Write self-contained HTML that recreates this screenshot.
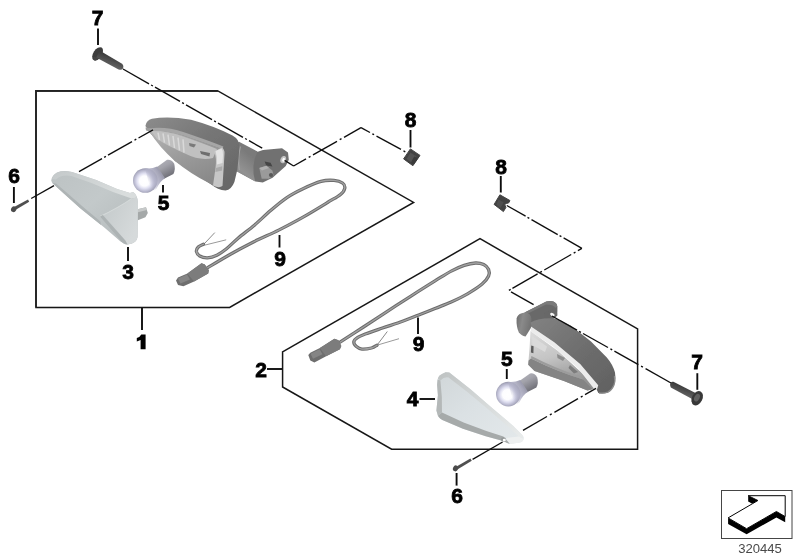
<!DOCTYPE html>
<html>
<head>
<meta charset="utf-8">
<title>Turn indicator parts diagram 320445</title>
<style>
  html, body { margin: 0; padding: 0; background: #ffffff; }
  body { width: 800px; height: 560px; overflow: hidden; font-family: "Liberation Sans", sans-serif; }
  svg { display: block; }
  .lbl { font-family: "Liberation Sans", sans-serif; font-weight: bold; font-size: 21px; fill: #000; stroke: #000; stroke-width: 0.8px; text-anchor: middle; }
  .ld { stroke: #111; stroke-width: 1.9; fill: none; }
  .box { stroke: #161616; stroke-width: 1.5; fill: none; stroke-linejoin: miter; }
  .dd { stroke: #111; stroke-width: 1.3; fill: none; stroke-dasharray: 22 3 2 3; }
</style>
</head>
<body>
<svg width="800" height="560" viewBox="0 0 800 560">
<defs>
  <filter id="soft" x="-5%" y="-5%" width="110%" height="110%"><feGaussianBlur stdDeviation="0.45"/></filter>
  <filter id="soft2" x="-10%" y="-10%" width="120%" height="120%"><feGaussianBlur stdDeviation="0.6"/></filter>
</defs>
<rect x="0" y="0" width="800" height="560" fill="#ffffff"/>

<!-- ===== GROUP BOXES ===== -->
<g id="boxes" filter="url(#soft)">
  <polygon class="box" points="36,90.9 217.9,90.9 413.6,202.4 229.6,307.4 36,307.4"/>
  <path d="M36,307.4 L36,90.9 L217.9,90.9" stroke="#222" stroke-width="1.75" fill="none" stroke-linejoin="miter"/>
  <polygon class="box" points="282.6,351.8 480,238.7 637.6,328.9 637.6,449.2 391.6,449.2 282.6,387"/>
</g>

<!-- ===== PARTS ===== -->
<defs>
  <linearGradient id="gShellL" x1="0" y1="0" x2="1" y2="1">
    <stop offset="0" stop-color="#8c8c8c"/><stop offset="0.45" stop-color="#767676"/><stop offset="1" stop-color="#646464"/>
  </linearGradient>
  <linearGradient id="gLensL" x1="0" y1="0" x2="0.6" y2="1">
    <stop offset="0" stop-color="#b4b4b4"/><stop offset="0.5" stop-color="#9c9c9c"/><stop offset="1" stop-color="#8a8a8a"/>
  </linearGradient>
  <linearGradient id="gStemL" x1="0" y1="0" x2="-0.5" y2="1">
    <stop offset="0" stop-color="#7a7a7a"/><stop offset="0.45" stop-color="#929292"/><stop offset="1" stop-color="#6c6c6c"/>
  </linearGradient>
  <radialGradient id="gBulb" cx="0.47" cy="0.52" r="0.54">
    <stop offset="0" stop-color="#ffffff"/><stop offset="0.38" stop-color="#fdfdff"/><stop offset="0.58" stop-color="#dedef0"/><stop offset="0.8" stop-color="#b6b6cc"/><stop offset="1" stop-color="#8e8ea2"/>
  </radialGradient>
  <linearGradient id="gNeck2" gradientUnits="userSpaceOnUse" x1="510" y1="394.5" x2="524" y2="386">
    <stop offset="0" stop-color="#b6b6cc" stop-opacity="0"/><stop offset="0.45" stop-color="#b2b2c8" stop-opacity="0.85"/><stop offset="1" stop-color="#9c9cae" stop-opacity="1"/>
  </linearGradient>
  <linearGradient id="gNeck" x1="0" y1="0" x2="0.55" y2="1">
    <stop offset="0" stop-color="#bcbcce"/><stop offset="0.5" stop-color="#a4a4b8"/><stop offset="1" stop-color="#7e7e90"/>
  </linearGradient>
  <linearGradient id="gBase" x1="0" y1="0" x2="0.55" y2="1">
    <stop offset="0" stop-color="#b8b8c0"/><stop offset="0.45" stop-color="#a2a2aa"/><stop offset="1" stop-color="#6c6c74"/>
  </linearGradient>
</defs>

<!-- left housing (indicator body) -->
<g id="housingL" filter="url(#soft2)">
  <!-- mount plate -->
  <path d="M236,141 L257,152 L263,150 L282,148.2 L288,152.5 L288.8,159.7 L285.8,165.9 L272.6,177.8 L262.8,182.6 L255.5,181.4 L233,169 Z" fill="#717171"/>
  <!-- stem cylinder -->
  <path d="M239,141.8 L257.6,151.6 Q250.4,166 255.2,181.4 L235,170.6 Q232.5,156 239,141.8 Z" fill="url(#gStemL)"/>
  <path d="M240.4,146.5 Q237.4,158 239.4,170" stroke="#a2a2a2" stroke-width="1.2" fill="none"/>
  <!-- bolt -->
  <path d="M264.6,161.6 L270.6,162.8 L272.4,166.6 L266.2,165.6 Z" fill="#454545"/>
  <path d="M259.3,168 L266.4,165.7 L272.4,170.5 L273.6,175.2 L268.8,178.8 L261.7,178.8 Z" fill="#9a9a9a"/>
  <path d="M259.3,168 L266.4,165.7 L269,168 L262,170.6 Z" fill="#b0b0b0"/>
  <circle cx="271" cy="175" r="2.1" fill="#585858"/>
  <!-- hole -->
  <ellipse cx="283.2" cy="159.6" rx="2.7" ry="3.7" fill="#c4c4c4" transform="rotate(20 283.2 159.6)"/>
  <ellipse cx="283.6" cy="159.8" rx="1.3" ry="2.0" fill="#ffffff" transform="rotate(20 283.6 159.8)"/>
  <!-- shell -->
  <path d="M145.4,126 Q146,120.5 152,118.8 Q168,115.6 191,119.8 Q214,126 232.5,135.5 Q239.6,139.5 239.4,146.5 L238.6,158 Q238,170 234.4,182 Q231.5,189.6 225.5,190.5 Q218,190 210.5,184 L175,161 L150,133 Z" fill="url(#gShellL)"/>
  <!-- lip along lens top -->
  <path d="M148.5,128.6 Q165,126 184,132.2 Q207,140 223.4,146.4 L222.4,149.4 Q206,143.6 183.2,135.6 Q165,129.8 149.5,131.6 Z" fill="#a6a6a6"/>
  <!-- lens body -->
  <path d="M149.5,131.5 Q165,129.5 183.2,135.5 Q207,143.5 222.5,149 L220,186 Q214,187 208,182.5 Q191,174 175.2,161.2 Q159,147 149.5,131.5 Z" fill="url(#gLensL)"/>
  <!-- lens upper ribbed band -->
  <path d="M151,131 Q166,130.5 183.2,136.5 Q205,144 217,149 L213,158 Q200,161 186,154 Q168,146 157,139 Z" fill="#c0c0c0"/>
  <path d="M158,132.6 L159.5,140 M163,133.4 L164.5,142.6 M168,134.6 L169.5,145.4 M173,136 L174.5,148 M178,137.6 L179.5,150.4 M183,139.4 L184,152.6" stroke="#d9d9d9" stroke-width="1.5" fill="none"/>
  <!-- inner dark bits -->
  <path d="M189,143 L196,144.5 L194,147.5 L189.5,146 Z" fill="#7a7a7a"/>
  <path d="M200,151 L210,153 L209.5,156.5 L201,154 Z" fill="#6e6e6e"/>
  <!-- lens right light face -->
  <path d="M214,151.5 L222,147.5 Q225,150 224.5,154 L222.5,186 Q219,188.5 213,185.5 L215.5,168 Q217,158 214,151.5 Z" fill="#c6c6c6"/>
  <path d="M215.5,151 L221.5,148.5 Q223.5,151 223,155 L222.5,163 L217,164.5 Q217.5,157 215.5,151 Z" fill="#e4e4e4"/>
  <path d="M215.8,168 L222.3,166.2 L222.1,170.5 L215.4,172 Z" fill="#aaaaaa"/>
  <!-- small tip notch -->
  <path d="M145.5,127.5 L150.5,128.5 L149.5,131.5 L146,130.5 Z" fill="#9c9c9c"/>
</g>

<defs>
  <linearGradient id="gL3main" x1="0" y1="0" x2="1" y2="1">
    <stop offset="0" stop-color="#bcc2c3"/><stop offset="0.45" stop-color="#c3c9ca"/><stop offset="1" stop-color="#b2b8b9"/>
  </linearGradient>
  <linearGradient id="gL3top" x1="0" y1="0" x2="1" y2="0.5">
    <stop offset="0" stop-color="#c4c9ca"/><stop offset="1" stop-color="#d9dddd"/>
  </linearGradient>
  <linearGradient id="gL3right" x1="0" y1="0" x2="1" y2="0.6">
    <stop offset="0" stop-color="#c2c8c9"/><stop offset="1" stop-color="#d6dadb"/>
  </linearGradient>
  <linearGradient id="gScrew" x1="0" y1="0" x2="-0.5" y2="1">
    <stop offset="0" stop-color="#3c3c3c"/><stop offset="0.5" stop-color="#686868"/><stop offset="1" stop-color="#3a3a3a"/>
  </linearGradient>
</defs>

<!-- lens 3 (left cover) -->
<g id="lens3" filter="url(#soft2)">
  <!-- tab -->
  <path d="M136.4,209.6 L146,207.2 L147.8,213 L145.4,217.2 L137.2,220.4 Z" fill="#a4a8a8"/>
  <path d="M136.4,209.6 L146,207.2 L146.8,210 L137,212.6 Z" fill="#c6c9c9"/>
  <!-- whole silhouette -->
  <path d="M51.2,180.5 Q52,175 57,172.5 Q63,170 72,172 L96.2,180.1 L117.1,188.9 L130,193 L133.2,192.1 Q137.5,195 138,203 L137.5,237 Q137,241.5 132,243.5 L127.6,244.6 Q124,244.5 120,241 L104.3,227.5 L80.2,208.2 L64.1,193.7 L54.5,185 Q51.5,183 51.2,180.5 Z" fill="url(#gL3main)"/>
  <!-- top bevel -->
  <path d="M52,179 Q53.6,173.8 59,172 Q64,170.5 72,172 L96.2,180.1 L117.1,188.9 L130,193 L133.2,192.1 Q136,194 137,197.6 L131.6,198.6 L113,192 L91.5,183 L71.5,176 Q61,174.2 56,179.6 Z" fill="url(#gL3top)"/>
  <!-- right face -->
  <path d="M131.6,198.6 L137,197.6 Q138,200 138,204 L137.5,237 Q137,241.5 132,243.5 L127.6,244.6 Q124.5,244.5 121,241.5 L100,216.5 Q118,208 131.6,198.6 Z" fill="url(#gL3right)"/>
  <!-- ridge highlight -->
  <path d="M131.6,198.6 Q118,208 100,216.5" stroke="#d4d9d9" stroke-width="1.1" fill="none"/>
  <!-- lower shaded band -->
  <path d="M100,216.5 L121,241.5 Q124.5,244.5 127.6,244.6 L125.4,240.4 L102.8,215 Z" fill="#adb3b4"/>
  <path d="M52.4,183 L54.5,185 L64.1,193.7 L80.2,208.2 L101,225 L100.4,221.6 L82,206 L66,192 L56,183.4 Z" fill="#aeb4b5"/>
</g>

<!-- screw 7 top-left -->
<g id="screw7L" filter="url(#soft2)">
  <ellipse cx="97.6" cy="53.8" rx="4.3" ry="7.4" fill="#3c3c3c" transform="rotate(33 97.6 53.8)"/>
  <path d="M99.6,50.6 L121.6,63.4 Q124.2,65.4 123,68.2 Q121.6,70.6 118.6,69.4 L96.2,57.4 Z" fill="url(#gScrew)"/>
  <path d="M93.5,56.5 Q92.6,60 95,60.8 Q97.5,60.6 99.5,58.6 Z" fill="#444"/>
</g>

<!-- screw 6 left -->
<g id="screw6L" filter="url(#soft)">
  <path d="M15,206.6 L28,199.4 L29.2,201.8 L16.2,209.4 Z" fill="#505050"/>
  <ellipse cx="13.7" cy="209.2" rx="2.6" ry="3" fill="#4c4c4c" transform="rotate(28 13.7 209.2)"/>
</g>

<!-- part 8 left -->
<g id="nut8L" filter="url(#soft2)">
  <path d="M403.6,158.9 L410.4,148.9 L420,155.4 L412.9,165.7 Z" fill="#424242" stroke="#424242" stroke-width="1" stroke-linejoin="round"/>
  <path d="M410.5,152.5 L416.5,156.6 L412,163 L406.5,159 Z" fill="#525252"/>
  <path d="M414.2,156.4 L417.8,158.6 L413.6,164.4 L411,162.6 Z" fill="#3a3a3a"/>
</g>

<!-- part 8 right -->
<g id="nut8R" filter="url(#soft2)">
  <path d="M494.1,204.4 L499.9,194.8 L509.9,200.5 L508.8,202.8 L506.3,203.6 L504.7,204.4 L505.9,207.5 L503.4,211.6 Z" fill="#424242" stroke="#424242" stroke-width="1" stroke-linejoin="round"/>
  <path d="M498.6,199.6 L503.6,202.6 L500.4,208 L496.4,204.6 Z" fill="#505050"/>
</g>


<!-- wire 9 left -->
<g id="wire9L" filter="url(#soft)">
  <path d="M203.5,244.6 L214.8,232.6" stroke="#8a8a8a" stroke-width="1" fill="none"/>
  <path d="M204.5,245.2 L226.2,239.8" stroke="#9a9a9a" stroke-width="1" fill="none"/>
  <path d="M207.5,267.8 C211.2,265.6 222.2,258.9 230.0,254.5 C237.8,250.1 246.3,245.6 254.4,241.5 C262.5,237.4 270.6,234.2 278.7,230.1 C286.8,226.0 295.0,221.7 303.1,217.1 C311.2,212.5 321.3,206.3 327.5,202.5 C333.7,198.7 337.6,196.8 340.5,194.4 C343.4,192.0 344.5,190.1 344.8,188.2 C345.1,186.3 344.3,184.3 342.5,183.0 C340.7,181.7 337.6,180.7 334.0,180.4 C330.4,180.1 326.1,180.0 321.0,181.4 C315.9,182.8 308.8,186.0 303.1,188.7 C297.4,191.4 292.3,193.9 286.9,197.6 C281.5,201.2 276.0,206.0 270.6,210.6 C265.2,215.2 259.8,220.6 254.4,225.2 C249.0,229.8 242.8,234.2 238.1,238.2 C233.4,242.2 229.7,246.2 226.2,249.0 C222.7,251.8 220.0,253.7 216.9,255.2 C213.8,256.7 210.3,257.7 207.5,257.8 C204.7,257.9 201.7,257.1 199.8,256.0 C198.0,254.9 196.7,253.0 196.4,251.5 C196.2,250.0 197.1,248.2 198.3,247.0 C199.5,245.8 202.6,244.7 203.5,244.2" stroke="#6c6c6c" stroke-width="3.3" fill="none" stroke-linecap="round" stroke-linejoin="round"/>
  <path d="M207.5,267.8 C211.2,265.6 222.2,258.9 230.0,254.5 C237.8,250.1 246.3,245.6 254.4,241.5 C262.5,237.4 270.6,234.2 278.7,230.1 C286.8,226.0 295.0,221.7 303.1,217.1 C311.2,212.5 321.3,206.3 327.5,202.5 C333.7,198.7 337.6,196.8 340.5,194.4 C343.4,192.0 344.5,190.1 344.8,188.2 C345.1,186.3 344.3,184.3 342.5,183.0 C340.7,181.7 337.6,180.7 334.0,180.4 C330.4,180.1 326.1,180.0 321.0,181.4 C315.9,182.8 308.8,186.0 303.1,188.7 C297.4,191.4 292.3,193.9 286.9,197.6 C281.5,201.2 276.0,206.0 270.6,210.6 C265.2,215.2 259.8,220.6 254.4,225.2 C249.0,229.8 242.8,234.2 238.1,238.2 C233.4,242.2 229.7,246.2 226.2,249.0 C222.7,251.8 220.0,253.7 216.9,255.2 C213.8,256.7 210.3,257.7 207.5,257.8 C204.7,257.9 201.7,257.1 199.8,256.0 C198.0,254.9 196.7,253.0 196.4,251.5 C196.2,250.0 197.1,248.2 198.3,247.0 C199.5,245.8 202.6,244.7 203.5,244.2" stroke="#a2a2a2" stroke-width="1.3" fill="none" stroke-linecap="round" stroke-linejoin="round"/>
  <path d="M176,280.4 L178,277.6 L187.4,273.5 L201.5,263.3 L204.8,264.6 L208.8,270.2 L208.2,273.5 L194.1,281.6 L183.4,286.3 L178,285 Z" fill="#6e6e6e"/>
  <path d="M187.4,273.5 L201.5,263.3 L204.8,264.6 L208.8,270.2 L208.2,273.5 L194.1,281.6 Z" fill="#7c7c7c"/>
  <path d="M178,278.5 L187,274.5 L190,279.5 L180.5,283.5 Z" fill="#858585"/>
</g>

<!-- wire 9 right -->
<g id="wire9R" filter="url(#soft)">
  <path d="M377,345.2 L387.3,331.5" stroke="#8a8a8a" stroke-width="1" fill="none"/>
  <path d="M377,345.2 L399,338.7" stroke="#9a9a9a" stroke-width="1" fill="none"/>
  <path d="M340.0,342.2 C343.9,339.7 355.7,332.1 363.5,327.0 C371.3,321.9 379.1,316.7 387.0,311.6 C394.9,306.5 402.6,301.4 410.6,296.3 C418.6,291.2 428.2,285.1 435.0,280.9 C441.8,276.7 446.3,273.7 451.2,271.1 C456.1,268.5 460.1,266.8 464.2,265.4 C468.3,264.0 472.4,263.1 475.6,263.0 C478.9,262.9 481.5,263.5 483.7,264.6 C485.9,265.7 487.8,267.6 488.6,269.5 C489.4,271.4 489.7,273.6 488.6,276.0 C487.5,278.4 485.6,281.1 482.1,284.1 C478.6,287.1 472.6,290.9 467.5,293.9 C462.4,296.9 456.6,299.6 451.2,302.0 C445.8,304.4 440.4,306.3 435.0,308.5 C429.6,310.7 424.1,312.9 418.7,315.0 C413.3,317.1 408.5,319.1 402.5,321.3 C396.5,323.5 388.6,325.9 382.5,328.0 C376.4,330.1 370.1,332.2 366.0,333.8 C361.9,335.4 359.8,336.1 357.8,337.4 C355.8,338.7 354.0,340.3 353.8,341.8 C353.6,343.3 355.0,345.4 356.4,346.6 C357.8,347.8 359.4,348.9 361.9,349.1 C364.4,349.3 369.0,348.6 371.5,348.0 C374.0,347.4 376.1,345.7 377.0,345.2" stroke="#6c6c6c" stroke-width="3.3" fill="none" stroke-linecap="round" stroke-linejoin="round"/>
  <path d="M340.0,342.2 C343.9,339.7 355.7,332.1 363.5,327.0 C371.3,321.9 379.1,316.7 387.0,311.6 C394.9,306.5 402.6,301.4 410.6,296.3 C418.6,291.2 428.2,285.1 435.0,280.9 C441.8,276.7 446.3,273.7 451.2,271.1 C456.1,268.5 460.1,266.8 464.2,265.4 C468.3,264.0 472.4,263.1 475.6,263.0 C478.9,262.9 481.5,263.5 483.7,264.6 C485.9,265.7 487.8,267.6 488.6,269.5 C489.4,271.4 489.7,273.6 488.6,276.0 C487.5,278.4 485.6,281.1 482.1,284.1 C478.6,287.1 472.6,290.9 467.5,293.9 C462.4,296.9 456.6,299.6 451.2,302.0 C445.8,304.4 440.4,306.3 435.0,308.5 C429.6,310.7 424.1,312.9 418.7,315.0 C413.3,317.1 408.5,319.1 402.5,321.3 C396.5,323.5 388.6,325.9 382.5,328.0 C376.4,330.1 370.1,332.2 366.0,333.8 C361.9,335.4 359.8,336.1 357.8,337.4 C355.8,338.7 354.0,340.3 353.8,341.8 C353.6,343.3 355.0,345.4 356.4,346.6 C357.8,347.8 359.4,348.9 361.9,349.1 C364.4,349.3 369.0,348.6 371.5,348.0 C374.0,347.4 376.1,345.7 377.0,345.2" stroke="#a2a2a2" stroke-width="1.3" fill="none" stroke-linecap="round" stroke-linejoin="round"/>
  <path d="M308.3,355 L310.3,352.8 L319.9,348 L334.4,338.8 L338.5,340.2 L341.3,345.9 L339.9,349.3 L326.1,356.2 L314.4,362.4 L310.3,360.4 Z" fill="#6e6e6e"/>
  <path d="M319.9,348 L334.4,338.8 L338.5,340.2 L341.3,345.9 L339.9,349.3 L326.1,356.2 Z" fill="#7c7c7c"/>
  <path d="M310.5,353.8 L319.5,349.2 L322.5,354.2 L313,358.8 Z" fill="#858585"/>
</g>


<defs>
  <linearGradient id="gMountR" x1="0" y1="0" x2="1" y2="0.3">
    <stop offset="0" stop-color="#6a6a6a"/><stop offset="0.45" stop-color="#8a8a8a"/><stop offset="1" stop-color="#747474"/>
  </linearGradient>
  <linearGradient id="gShellR" x1="0" y1="0" x2="1" y2="1">
    <stop offset="0" stop-color="#828282"/><stop offset="0.5" stop-color="#6e6e6e"/><stop offset="1" stop-color="#606060"/>
  </linearGradient>
  <linearGradient id="gReflR" x1="0" y1="0" x2="0.3" y2="1">
    <stop offset="0" stop-color="#dcdcdc"/><stop offset="0.5" stop-color="#c4c4c4"/><stop offset="1" stop-color="#929292"/>
  </linearGradient>
  <linearGradient id="gL4top" gradientUnits="userSpaceOnUse" x1="440" y1="374" x2="520" y2="436">
    <stop offset="0" stop-color="#bfc3c3"/><stop offset="0.35" stop-color="#cfd3d3"/><stop offset="1" stop-color="#e8ebeb"/>
  </linearGradient>
  <linearGradient id="gL4main" x1="0" y1="0" x2="1" y2="1">
    <stop offset="0" stop-color="#d0d6d8"/><stop offset="0.45" stop-color="#dbe1e4"/><stop offset="1" stop-color="#e4e9eb"/>
  </linearGradient>
</defs>

<!-- right housing -->
<g id="housingR" filter="url(#soft2)">
  <!-- mount plate (top) -->
  <path d="M524.6,312.4 L546.3,301.6 Q550,300.6 553.4,301.4 Q557,303 557.3,306.4 L557.1,311.8 Q555.6,315 552.6,316.8 L531,327.4 L524,322 Z" fill="#696969"/>
  <path d="M546.3,301.6 Q550,300.6 553.4,301.4 Q557,303 557.3,306.4 L556.4,309 Q554,304.6 546,304.6 L528,313.4 L524.6,312.4 Z" fill="#7a7a7a"/>
  <!-- mount cylinder (left) -->
  <path d="M516.6,318.4 Q517.4,314.6 521.6,313.2 L526,312.2 Q530.6,314 531.4,318 L531.2,327.4 Q528.6,331.6 525.6,336.4 Q521,335.6 518.8,332.2 Q516.2,327 516.6,318.4 Z" fill="url(#gMountR)"/>
  <path d="M544,313 L557.2,307 L557.4,315.4 L551.6,320.4 L545,319 Z" fill="#676767"/>
  <!-- hole -->
  <ellipse cx="552.4" cy="314.6" rx="2.4" ry="1.5" fill="#f6f6f6" transform="rotate(28 552.4 314.6)"/>
  <!-- reflector interior -->
  <path d="M530.5,331 L558,350.9 L583.6,374.5 L595,388.2 L587.5,390.6 L563.9,381 L534.5,371 L528.2,364.7 L529.6,347 Z" fill="url(#gReflR)"/>
  <path d="M528.6,360.4 L528.2,364.7 L534.5,371 L563.9,381 L587.5,390.6 L592.6,389.2 L583,379.4 Q556,371 531,358.4 Z" fill="#848484"/>
  <path d="M531,358.4 Q556,371 583,379.4 L580,376.4 Q556,368.6 531.4,356 Z" fill="#9c9c9c"/>
  <path d="M531.2,345.6 L533.6,346.2 L533.4,353.2 L530.9,352.6 Z" fill="#5c5c5c"/>
  <path d="M557,354 L565,358 L563,361 L557.5,358 Z" fill="#8c8c8c"/>
  <path d="M570,365 L578,372 L574,373.5 L568.5,368 Z" fill="#7c7c7c"/>
  <path d="M532,336 L547,346.6 L545,352 L532.4,345 Z" fill="#dadada"/>
  <!-- shell -->
  <path d="M530.5,322.4 Q541,317.4 554.6,318.6 Q563,320.6 571,325.8 L591,341.4 L606.8,357.4 Q613,364.6 615,372.6 Q616.2,378.6 614.6,383.6 Q612.8,389.6 608,392.4 Q603.4,394 598.3,393 L596.2,388.6 L579.7,366 L554.1,344 L532,328 Z" fill="url(#gShellR)"/>
  <path d="M614.4,376 Q615.6,381 614,385 Q612,390 607.8,392.2 Q603.6,393.6 599,393" stroke="#8c8c8c" stroke-width="1.3" fill="none"/>
  <!-- white lens strip -->
  <path d="M531,326.5 L554.3,342.3 L580.2,364 L598.2,385.2 L597,389.4 L594.2,389 L578,368.2 L553,346.6 L530.8,331.6 Z" fill="#ececec"/>
</g>


<!-- bulbs (5) -->
<g id="bulbR" filter="url(#soft2)">
  <path d="M519,381.3 L530,373.4 Q534.6,372.6 537.2,377.4 Q538.8,383 536.4,387.6 L526.6,392.6 Z" fill="url(#gBase)"/>
  <circle cx="508.3" cy="394.1" r="12.3" fill="url(#gBulb)"/>
  <path d="M508,381.9 Q515,382.6 520.2,380 L528,391.8 Q523,394.8 519.6,402 Q517,405 514,405.6 Z" fill="url(#gNeck2)"/>
</g>
<g id="bulbL" filter="url(#soft2)" transform="translate(-363,-213.6)">
  <path d="M519,381.3 L530,373.4 Q534.6,372.6 537.2,377.4 Q538.8,383 536.4,387.6 L526.6,392.6 Z" fill="url(#gBase)"/>
  <circle cx="508.3" cy="394.1" r="12.3" fill="url(#gBulb)"/>
  <path d="M508,381.9 Q515,382.6 520.2,380 L528,391.8 Q523,394.8 519.6,402 Q517,405 514,405.6 Z" fill="url(#gNeck2)"/>
</g>

<!-- lens 4 (right cover) -->
<g id="lens4" filter="url(#soft2)">
  <path d="M437.6,379.4 Q438.4,375.6 442,374 L445.6,372.3 L449.3,372.6 L470.5,389.3 L493.3,409 L513,425.7 L522.1,434.8 Q524,437 523.6,439.4 Q522.5,442 519.8,442.6 L510,444 Q506,443 503.9,441.2 L485.7,436.3 L462.9,428.7 L444.7,421.1 Q439.5,419 437.9,415.8 L436.4,410.5 L437.9,395.3 L437.1,384.7 Z" fill="url(#gL4main)"/>
  <!-- top bevel -->
  <path d="M437.8,378.6 Q438.6,375.4 442,374 L445.6,372.3 L449.3,372.6 L470.5,389.3 L493.3,409 L513,425.7 L522.1,434.8 Q523.6,436.6 523.6,438.5 L518.6,436.4 L509,427.6 L489.6,410.6 L467.4,392 L448.6,377.4 Q444,376.6 440.4,380.4 Z" fill="url(#gL4top)"/>
  <!-- left band -->
  <path d="M437.6,379.6 L440.4,380.6 Q442.4,397 442,412.6 L437.9,415.8 L436.4,410.5 L437.9,395.3 L437.1,384.7 Z" fill="#b4b8b8"/>
  <!-- bottom band -->
  <path d="M437.9,415.8 L442,412.6 L463.6,422.6 L486.4,431 L503.4,436.4 L510,444 Q506,443 503.9,441.2 L485.7,436.3 L462.9,428.7 L444.7,421.1 Q439.5,419 437.9,415.8 Z" fill="#a6aaaa"/>
  <!-- right tip highlight -->
  <path d="M506,438 L518.6,436.4 L523.6,438.8 Q523,442 519.8,442.6 L510,444 Z" fill="#eef0f0"/>
  <!-- hole -->
  <ellipse cx="503.4" cy="439.4" rx="2.5" ry="2.1" fill="#969a9a"/>
  <ellipse cx="504.3" cy="439.9" rx="1.5" ry="1.2" fill="#ffffff"/>
</g>

<!-- screw 7 right -->
<g id="screw7R" filter="url(#soft2)">
  <path d="M673.4,381.8 L696.5,393.6 L692.6,399.2 L670.8,387.6 Q669.4,384.8 670.6,382.8 Q671.8,381.4 673.4,381.8 Z" fill="url(#gScrew)"/>
  <ellipse cx="697.2" cy="398.2" rx="5.2" ry="7.6" fill="#383838" transform="rotate(27 697.2 398.2)"/>
  <ellipse cx="697" cy="397.6" rx="2.6" ry="4" fill="#606060" transform="rotate(27 697 397.6)"/>
</g>

<!-- screw 6 right -->
<g id="screw6R" filter="url(#soft)">
  <path d="M457,466.2 L470.4,458.4 L471.8,460.8 L458.2,469 Z" fill="#505050"/>
  <ellipse cx="455.6" cy="468.4" rx="2.6" ry="3" fill="#4c4c4c" transform="rotate(28 455.6 468.4)"/>
</g>



<!-- ===== DASH-DOT ASSEMBLY LINES ===== -->
<g id="axes" filter="url(#soft)">
  <path d="M123.0,69.0 L149.0,83.8 M151.1,85.0 L152.9,86.0 M155.0,87.2 L180.0,101.4 M182.1,102.6 L183.9,103.6 M186.0,104.8 L212.0,119.6 M214.1,120.9 L215.9,121.8 M218.0,123.1 L243.0,137.3 M245.1,138.5 L246.9,139.5 M249.0,140.7 L262.2,148.2
    M284.6,160.4 L293.6,166
    M293.6,166.0 L306.0,158.9 M308.7,157.4 L310.5,156.4 M313.0,154.9 L337.0,141.3 M339.7,139.7 L341.5,138.7 M344.0,137.3 L361.0,127.6
    M361.0,127.6 L370.0,132.5 M372.3,133.8 L374.1,134.7 M376.5,136.1 L401.0,149.4 M403.5,150.8 L405.3,151.8
    M31.2,198.5 L54.0,185.7 M79.0,171.6 L102.0,158.6 M104.1,157.4 L105.9,156.4 M108.0,155.2 L132.0,141.6 M134.5,140.2 L136.3,139.2 M138.5,138.0 L153.0,129.8
    M506.8,205.5 L525.6,216.2 M527.5,217.3 L529.3,218.3 M531.5,219.6 L557.7,234.6 M559.6,235.7 L561.4,236.7 M563.6,237.9 L581.9,248.4
    M581.9,248.4 L577.9,250.7 M575.5,252.1 L573.7,253.1 M571.2,254.5 L544.3,270.0 M541.9,271.4 L540.1,272.4 M537.6,273.9 L512.4,288.3 M510.7,289.3 L508.9,290.3
    M511.0,291.9 L533.6,304.7
    M552.0,316.0 L577.0,330.1 M579.1,331.3 L580.9,332.3 M583.0,333.5 L608.0,347.5 M610.4,348.9 L612.2,349.9 M614.4,351.1 L638.4,364.6 M641.1,366.2 L642.9,367.2 M645.6,368.7 L671.0,383.0
    M472.6,459.3 L502.6,442.0 M523.0,430.3 L547.0,416.5 M549.9,414.9 L551.7,413.9 M554.4,412.3 L578.0,398.7 M580.8,397.1 L582.6,396.1 M585.0,394.7 L596.0,388.4" stroke="#111" stroke-width="1.35" fill="none"/>
</g>



<!-- ===== LABELS & LEADERS ===== -->
<g id="labels" filter="url(#soft)">
  <text class="lbl" x="97.6" y="24.9">7</text>
  <line class="ld" x1="98" y1="28.5" x2="98" y2="45"/>
  <text class="lbl" x="14.2" y="183">6</text>
  <line class="ld" x1="13.9" y1="187" x2="13.9" y2="203"/>
  <text class="lbl" x="128.2" y="279">3</text>
  <line class="ld" x1="128" y1="247" x2="128" y2="261"/>
  <text class="lbl" x="163.6" y="210.4">5</text>
  <line class="ld" x1="163" y1="185" x2="163" y2="192.5"/>
  <text class="lbl" x="280" y="266">9</text>
  <line class="ld" x1="279.5" y1="235" x2="279.5" y2="247.5"/>
  <path d="M141.3,334.4 L145.6,334.4 L145.6,349.2 L140.6,349.2 L140.6,340 Q138.8,341 136.8,341.4 L136.8,338 Q140,337 141.3,334.4 Z" fill="#000"/>
  <line class="ld" x1="142" y1="308" x2="142" y2="330"/>
  <text class="lbl" x="410.6" y="127">8</text>
  <line class="ld" x1="410.5" y1="130" x2="410.5" y2="147.5"/>
  <text class="lbl" x="501" y="174">8</text>
  <line class="ld" x1="500.8" y1="176" x2="500.8" y2="192.5"/>
  <text class="lbl" x="261" y="376.5">2</text>
  <line class="ld" x1="267" y1="369" x2="282.5" y2="369"/>
  <text class="lbl" x="418.6" y="351.4">9</text>
  <line class="ld" x1="418" y1="317.5" x2="418" y2="334"/>
  <text class="lbl" x="506.8" y="365.5">5</text>
  <line class="ld" x1="506.8" y1="369" x2="506.8" y2="379"/>
  <text class="lbl" x="412.5" y="405.5">4</text>
  <line class="ld" x1="419.5" y1="399" x2="435" y2="399"/>
  <text class="lbl" x="457.1" y="503.1">6</text>
  <line class="ld" x1="456.6" y1="473" x2="456.6" y2="485.6"/>
  <text class="lbl" x="697.2" y="369.2">7</text>
  <line class="ld" x1="697.3" y1="373.2" x2="697.3" y2="389.8"/>
</g>

<!-- ===== ARROW ICON + DRAWING NUMBER ===== -->
<g id="icon" filter="url(#soft)">
  <rect x="721.5" y="490.5" width="70.5" height="48" fill="#fff" stroke="#444" stroke-width="1"/>
  <polygon points="728.1,517.9 746.6,528.7 776.4,511.5 785.2,516.6 785.2,522.3 776.4,517.4 746.6,534.3 728.1,523.9" fill="#000"/>
  <polygon points="748.2,495.7 757.9,500.5 752.3,503.8 748.2,501.4" fill="#000"/>
  <polygon points="748.2,495.7 785.2,495.7 785.2,516.6 776.4,511.5 746.6,528.7 728.1,517.9 752.3,503.8 757.9,500.5" fill="#fff" stroke="#000" stroke-width="1" stroke-linejoin="miter"/>
  <text x="760" y="553" font-family="Liberation Sans, sans-serif" font-size="13.1" fill="#4a4a4a" text-anchor="middle">320445</text>
</g>
</svg>
</body>
</html>
